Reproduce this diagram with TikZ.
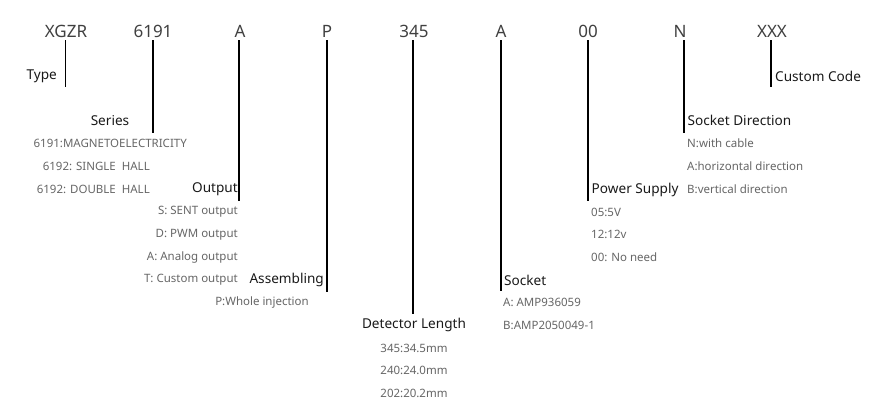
\documentclass[tikz,border=0pt]{standalone}
\usepackage{fontspec}
\setmainfont{Noto Sans}
\usepackage{tikz}

\tikzset{
  code/.style={inner sep=0pt, text=black!75, font=\fontsize{17}{19}\selectfont},
  head/.style={inner sep=0pt, text=black!90, font=\fontsize{13.6}{15}\selectfont},
  item/.style={inner sep=0pt, text=black!60, font=\fontsize{11.5}{13}\selectfont},
  lead/.style={line width=1.8pt, black}
}

\begin{document}
\begin{tikzpicture}[x=1pt, y=-1pt]
    \useasboundingbox (0,0) rectangle (885,418);
    % the code
    \node[code] (cType) at (66,31) {XGZR};
    \node[code] (cSeries) at (153,31) {6191};
    \node[code] (cOut) at (240,31) {A};
    \node[code] (cAsm) at (327,31) {P};
    \node[code] (cLen) at (414,31) {345};
    \node[code] (cSock) at (501,31) {A};
    \node[code] (cPow) at (588,31) {00};
    \node[code] (cDir) at (680,31) {N};
    \node[code] (cCust) at (772,31) {XXX};
    % line ends
    \coordinate (eType) at (65.5,87);
    \coordinate (eSeries) at (152.7,133);
    \coordinate (eOut) at (239.3,201);
    \coordinate (eAsm) at (326.7,292);
    \coordinate (eLen) at (413.3,314);
    \coordinate (eSock) at (500.7,291);
    \coordinate (ePow) at (587.7,201);
    \coordinate (eDir) at (684,133);
    \coordinate (eCust) at (771,87);
    \draw[lead] (cType.south -| eType) ++(0,3) -- (eType);
    \draw[lead] (cSeries.south -| eSeries) ++(0,3) -- (eSeries);
    \draw[lead] (cOut.south -| eOut) ++(0,3) -- (eOut);
    \draw[lead] (cAsm.south -| eAsm) ++(0,3) -- (eAsm);
    \draw[lead] (cLen.south -| eLen) ++(0,3) -- (eLen);
    \draw[lead] (cSock.south -| eSock) ++(0,3) -- (eSock);
    \draw[lead] (cPow.south -| ePow) ++(0,3) -- (ePow);
    \draw[lead] (cDir.south -| eDir) ++(0,3) -- (eDir);
    \draw[lead] (cCust.south -| eCust) ++(0,3) -- (eCust);
    % Type
    \node[head, anchor=east] (hType) at (57,76) {Type};
    % Series
    \node[head] (hSeries) at (110,121) {Series};
    \node[item, anchor=east] (s1) at (187,143.5) {6191:MAGNETOELECTRICITY};
    \node[item, anchor=east] (s2) at (150,166) {6192: SINGLE\ \ HALL};
    \node[item, anchor=east] (s3) at (150,189) {6192: DOUBLE\ \ HALL};
    % Output
    \node[head, anchor=east] (hOut) at (238,189.5) {Output};
    \node[item, anchor=east] (o1) at (238,212) {S: SENT output};
    \node[item, anchor=east] (o2) at (238,234.5) {D: PWM output};
    \node[item, anchor=east] (o3) at (238,257.5) {A: Analog output};
    \node[item, anchor=east] (o4) at (238,280) {T: Custom output};
    % Assembling
    \node[head, anchor=east] (hAsm) at (324,280) {Assembling};
    \node[item] (a1) at (262,302.5) {P:Whole injection};
    % Detector Length
    \node[head] (hLen) at (414,325) {Detector Length};
    \node[item] (l1) at (414,348) {345:34.5mm};
    \node[item] (l2) at (414,370.5) {240:24.0mm};
    \node[item] (l3) at (414,393) {202:20.2mm};
    % Socket
    \node[head, anchor=west] (hSock) at (504,280) {Socket};
    \node[item, anchor=west] (k1) at (503,302.5) {A: AMP936059};
    \node[item, anchor=west] (k2) at (503,325) {B:AMP2050049-1};
    % Power Supply
    \node[head, anchor=west] (hPow) at (591.5,189.5) {Power Supply};
    \node[item, anchor=west] (p1) at (591,212) {05:5V};
    \node[item, anchor=west] (p2) at (591,234.5) {12:12v};
    \node[item, anchor=west] (p3) at (591,257.5) {00: No need};
    % Socket Direction
    \node[head, anchor=west] (hDir) at (687.5,120.5) {Socket Direction};
    \node[item, anchor=west] (d1) at (687,143.5) {N:with cable};
    \node[item, anchor=west] (d2) at (687,166) {A:horizontal direction};
    \node[item, anchor=west] (d3) at (687,189) {B:vertical direction};
    % Custom Code
    \node[head, anchor=west] (hCust) at (775,76) {Custom Code};
\end{tikzpicture}
\end{document}
